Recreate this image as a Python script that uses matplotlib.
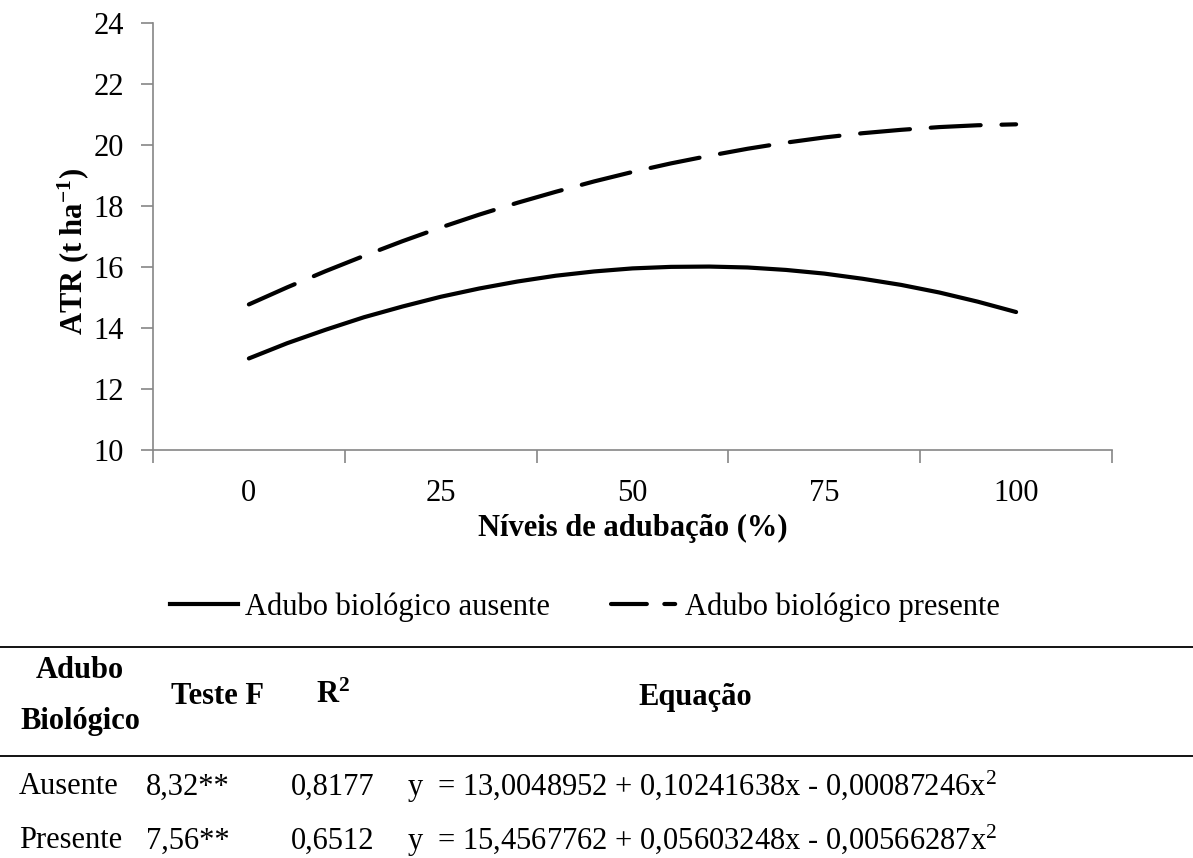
import matplotlib
matplotlib.use('Agg')
import matplotlib.pyplot as plt
from matplotlib.lines import Line2D
import numpy as np

plt.rcParams['font.family'] = ['Liberation Serif', 'DejaVu Serif']
plt.rcParams['mathtext.fontset'] = 'custom'
plt.rcParams['mathtext.rm'] = 'Liberation Serif'
plt.rcParams['mathtext.bf'] = 'Liberation Serif:bold'
plt.rcParams['mathtext.it'] = 'Liberation Serif:italic'

# niveis de adubacao (%) e ATR
niveis = [0, 5, 10, 15, 20, 25, 30, 35, 40, 45, 50, 55, 60, 65, 70, 75, 80, 85, 90, 95, 100]
atr_ausente = [13.00, 13.50, 13.94, 14.35, 14.70, 15.02, 15.29, 15.52, 15.71, 15.85, 15.95,
               16.00, 16.01, 15.98, 15.90, 15.78, 15.61, 15.41, 15.16, 14.86, 14.52]
atr_presente = [14.77, 15.33, 15.86, 16.36, 16.84, 17.29, 17.71, 18.10, 18.46, 18.80, 19.11,
                19.39, 19.64, 19.87, 20.07, 20.24, 20.38, 20.49, 20.58, 20.64, 20.67]
categorias = [0, 25, 50, 75, 100]
series = ['Adubo biológico ausente', 'Adubo biológico presente']

# tabela de regressao
cab_tabela = ['Teste F', 'R$^\\mathbf{2}$', 'Equação']
trat = ['Ausente', 'Presente']
teste_f = ['8,32**', '7,56**']
r2 = ['0,8177', '0,6512']
equacoes = ['y  = 13,0048952 + 0,10241638x - 0,00087246x$^2$',
            'y  = 15,4567762 + 0,05603248x - 0,00566287x$^2$']

W, H = 1193, 858
fig = plt.figure(figsize=(W / 100, H / 100), dpi=100)
ax = fig.add_axes([153 / W, 1 - 450 / H, (1112 - 153) / W, (450 - 22.7) / H])

fs = 22
cinza = '#868686'

ax.plot(niveis, atr_ausente, color='black', lw=3, solid_capstyle='round')
ax.plot(niveis, atr_presente, color='black', lw=3, dashes=(12, 5), dash_capstyle='round')

ax.set_ylim(10, 24)
ax.set_yticks(np.arange(10, 25, 2))
ax.set_xlim(-12.5, 112.5)
ax.set_xticks(np.arange(-12.5, 113, 25))
ax.set_xticklabels([])
ax.set_xticks(categorias, minor=True)
ax.set_xticklabels([str(c) for c in categorias], minor=True)
ax.tick_params(axis='x', which='minor', length=0, pad=21, labelsize=fs)
ax.tick_params(axis='x', which='major', length=9, color=cinza, width=1.2, direction='out')
ax.tick_params(axis='y', length=9, color=cinza, width=1.2, direction='out', labelsize=fs, pad=12)

for s in ['top', 'right']:
    ax.spines[s].set_visible(False)
for s in ['left', 'bottom']:
    ax.spines[s].set_color(cinza)
    ax.spines[s].set_linewidth(1.2)


def fy(y):
    return 1 - y / H


fig.text(73 / W, fy(252), 'ATR (t ha$^{\\mathbf{-1}}$)', rotation=90, ha='center', va='center',
         fontsize=fs, fontweight='bold')
fig.text(633 / W, fy(528), 'Níveis de adubação (%)', ha='center', va='center',
         fontsize=fs, fontweight='bold')

# legenda
h1 = Line2D([], [], color='black', lw=3)
h2 = Line2D([], [], color='black', lw=3, dashes=(8.6, 4.2, 2.6, 10), dash_capstyle='round')
fig.legend([h1, h2], series, loc='center', bbox_to_anchor=(585 / W, fy(607)),
           ncol=2, frameon=False, fontsize=fs, handlelength=2.23, handletextpad=0.2,
           columnspacing=2.0, borderpad=0, borderaxespad=0)

# tabela
fig.add_artist(Line2D([0, 1], [fy(647), fy(647)], color='black', lw=1.3))
fig.add_artist(Line2D([0, 1], [fy(756), fy(756)], color='black', lw=1.3))

fig.text(80 / W, fy(671), 'Adubo', ha='center', va='center', fontsize=fs, fontweight='bold')
fig.text(80 / W, fy(722), 'Biológico', ha='center', va='center', fontsize=fs, fontweight='bold')
fig.text(171 / W, fy(697), cab_tabela[0], ha='left', va='center', fontsize=fs, fontweight='bold')
fig.text(316 / W, fy(695), cab_tabela[1], ha='left', va='center', fontsize=fs, fontweight='bold')
fig.text(695 / W, fy(697), cab_tabela[2], ha='center', va='center', fontsize=fs, fontweight='bold')

linhas_y = [787, 841]
for i in range(len(trat)):
    y = fy(linhas_y[i])
    fig.text(19 / W, y, trat[i], ha='left', va='center', fontsize=fs)
    fig.text(146 / W, y, teste_f[i], ha='left', va='center', fontsize=fs)
    fig.text(291 / W, y, r2[i], ha='left', va='center', fontsize=fs)
    fig.text(407 / W, y, equacoes[i], ha='left', va='center', fontsize=fs)

fig.savefig('out.png', dpi=100)
